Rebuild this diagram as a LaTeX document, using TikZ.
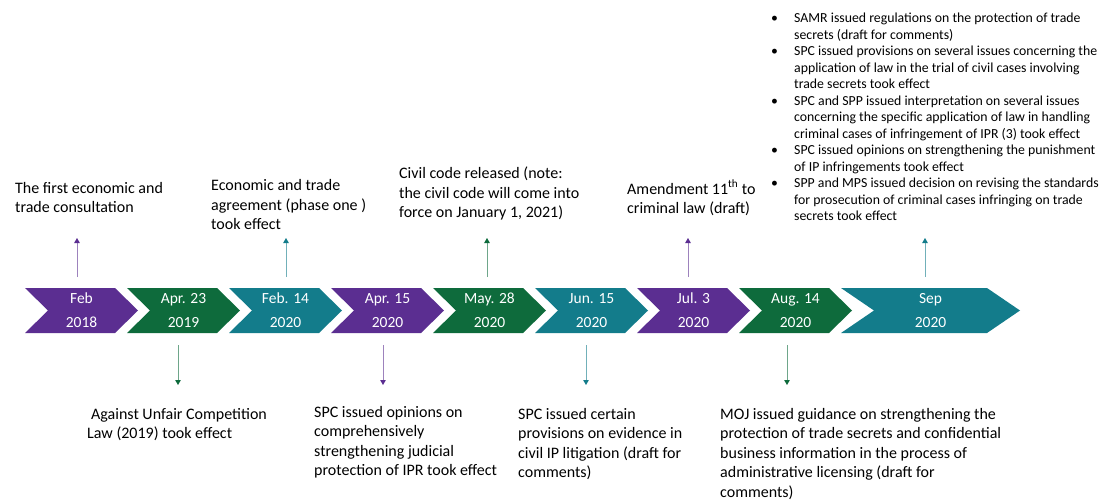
\documentclass[tikz,border=0pt]{standalone}
\usepackage{fontspec}
\setmainfont{Carlito}
\usetikzlibrary{arrows.meta}
\definecolor{cpurple}{RGB}{91,46,145}
\definecolor{cgreen}{RGB}{14,107,60}
\definecolor{cteal}{RGB}{19,124,139}
\newcommand\mkchev[7]{%
  \fill[#4] (#1,288) -- ({#1+#2-#3},288) -- ({#1+#2},310.5) -- ({#1+#2-#3},333) -- (#1,333) -- ({#1+#3},310.5) -- cycle;
  \node[chevtext] (#5) at ({#1+#2/2},310.5) {#6\\#7};
}
\tikzset{
  chevtext/.style={text=white, align=center, inner sep=0pt, font=\fontsize{15.5}{24}\selectfont},
  lbl/.style={align=left, anchor=base west, inner sep=0pt, font=\fontsize{16}{19.5}\selectfont},
  bul/.style={align=left, anchor=base west, inner sep=0pt, font=\fontsize{13.8}{16.5}\selectfont},
  upar/.style={draw=#1!60, line width=0.9pt, -{Triangle[width=5.5pt,length=5pt,color=#1]}},
}
\newcommand\bl{\makebox[23pt][l]{•}}
\newcommand\ind{\hspace*{23pt}}
\begin{document}
\begin{tikzpicture}[x=1pt,y=-1pt]
\useasboundingbox (0,0) rectangle (1108,499);
% chevrons
\mkchev{25}{113}{23}{cpurple}{c1}{Feb}{2018}
\mkchev{127}{113}{23}{cgreen}{c2}{Apr. 23}{2019}
\mkchev{229}{113}{23}{cteal}{c3}{Feb. 14}{2020}
\mkchev{331}{113}{23}{cpurple}{c4}{Apr. 15}{2020}
\mkchev{433}{113}{23}{cgreen}{c5}{May. 28}{2020}
\mkchev{535}{113}{23}{cteal}{c6}{Jun. 15}{2020}
\mkchev{637}{113}{23}{cpurple}{c7}{Jul. 3}{2020}
\mkchev{739}{113}{23}{cgreen}{c8}{Aug. 14}{2020}
\mkchev{841}{179}{33}{cteal}{c9}{Sep}{2020}
% top labels (anchor = baseline of last line)
\node[lbl] (t1) at (15,212.5) {The first economic and\\trade consultation};
\node[lbl] (t3) at (211,229.5) {Economic and trade\\agreement (phase one )\\took effect};
\node[lbl] (t5) at (399,217.5) {Civil code released (note:\\the civil code will come into\\force on January 1, 2021)};
\node[lbl] (t7) at (627,213.5) {Amendment 11\textsuperscript{th} to\\criminal law (draft)};
\node[bul] (t9) at (771,220.5) {\bl SAMR issued regulations on the protection of trade\\
\ind secrets (draft for comments)\\
\bl SPC issued provisions on several issues concerning the\\
\ind application of law in the trial of civil cases involving\\
\ind trade secrets took effect\\
\bl SPC and SPP issued interpretation on several issues\\
\ind concerning the specific application of law in handling\\
\ind criminal cases of infringement of IPR (3) took effect\\
\bl SPC issued opinions on strengthening the punishment\\
\ind of IP infringements took effect\\
\bl SPP and MPS issued decision on revising the standards\\
\ind for prosecution of criminal cases infringing on trade\\
\ind secrets took effect};
% bottom labels
\node[lbl] (b2) at (87,438.5) {\hspace*{4pt}Against Unfair Competition\\Law (2019) took effect};
\node[lbl] (b4) at (314,475.5) {SPC issued opinions on\\comprehensively\\strengthening judicial\\protection of IPR took effect};
\node[lbl] (b6) at (518,477.5) {SPC issued certain\\provisions on evidence in\\civil IP litigation (draft for\\comments)};
\node[lbl] (b8) at (720,497) {MOJ issued guidance on strengthening the\\protection of trade secrets and confidential\\business information in the process of\\administrative licensing (draft for\\comments)};
% arrow end coordinates
\coordinate (u1s) at (77,277);  \coordinate (u1e) at (77,238);
\coordinate (u3s) at (286,277); \coordinate (u3e) at (286,238);
\coordinate (u5s) at (487,277); \coordinate (u5e) at (487,238);
\coordinate (u7s) at (688,277); \coordinate (u7e) at (688,238);
\coordinate (u9s) at (925,277); \coordinate (u9e) at (925,238);
\coordinate (d2s) at (178,345); \coordinate (d2e) at (178,385);
\coordinate (d4s) at (383,345); \coordinate (d4e) at (383,385);
\coordinate (d6s) at (586,345); \coordinate (d6e) at (586,385);
\coordinate (d8s) at (787,345); \coordinate (d8e) at (787,385);
\draw[upar=cpurple] (u1s) -- (u1e);
\draw[upar=cteal] (u3s) -- (u3e);
\draw[upar=cgreen] (u5s) -- (u5e);
\draw[upar=cpurple] (u7s) -- (u7e);
\draw[upar=cteal] (u9s) -- (u9e);
\draw[upar=cgreen] (d2s) -- (d2e);
\draw[upar=cpurple] (d4s) -- (d4e);
\draw[upar=cteal] (d6s) -- (d6e);
\draw[upar=cgreen] (d8s) -- (d8e);
\end{tikzpicture}
\end{document}
